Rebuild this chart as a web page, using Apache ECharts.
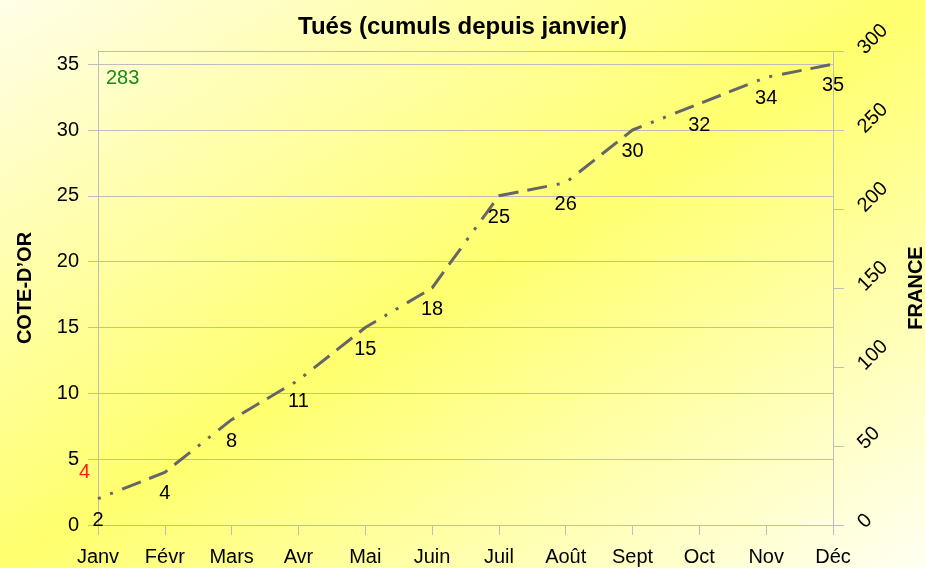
<!DOCTYPE html>
<html>
<head>
<meta charset="utf-8">
<script src="https://cdn.jsdelivr.net/npm/echarts@6/dist/echarts.min.js"></script>
<style>
  html, body { margin: 0; padding: 0; }
  body {
    width: 925px; height: 568px; overflow: hidden;
    background: linear-gradient(to bottom right, #fffee8 0%, #ffff6e 50%, #fffff2 100%);
  }
  #chart { width: 925px; height: 568px; }
</style>
</head>
<body>
<div id="chart"></div>
<script>
// mois (axe X)
const months = ['Janv', 'Févr', 'Mars', 'Avr', 'Mai', 'Juin', 'Juil', 'Août', 'Sept', 'Oct', 'Nov', 'Déc'];
// tués cumulés Côte-d'Or
const coteDorValues = [2, 4, 8, 11, 15, 18, 25, 26, 30, 32, 34, 35];
// annotations
const franceTotal = '283';
const coteDorMonth = '4';

const font = 'Liberation Sans, Arial, sans-serif';
const gridColor = '#bdbdbd';
const chart = echarts.init(document.getElementById('chart'), null, {renderer: 'canvas'});

chart.setOption({
  backgroundColor: 'transparent',
  animation: false,
  title: {
    text: 'Tués (cumuls depuis janvier)',
    left: 'center',
    top: 10,
    textStyle: {fontFamily: font, fontSize: 24, fontWeight: 'bold', color: '#000'}
  },
  grid: {left: 98, right: 92, top: 51, bottom: 43, outerBoundsMode: 'none'},
  xAxis: {
    type: 'category',
    data: months,
    boundaryGap: false,
    axisLine: {lineStyle: {color: gridColor, width: 1}},
    axisTick: {show: true, length: 10, lineStyle: {color: gridColor}},
    axisLabel: {fontFamily: font, fontSize: 20, color: '#000', margin: 22, interval: 0},
    splitLine: {show: false}
  },
  yAxis: [
    {
      type: 'value',
      min: 0, max: 36, interval: 5,
      position: 'left',
      name: 'COTE-D’OR',
      nameLocation: 'middle',
      nameRotate: 90,
      nameGap: 63,
      nameTextStyle: {fontFamily: font, fontSize: 20, fontWeight: 'bold', color: '#000'},
      axisLine: {show: true, lineStyle: {color: gridColor}},
      axisTick: {show: true, length: 10, lineStyle: {color: gridColor}},
      axisLabel: {fontFamily: font, fontSize: 20, color: '#000', margin: 19, showMaxLabel: false},
      splitLine: {show: true, lineStyle: {color: gridColor, width: 1}}
    },
    {
      type: 'value',
      min: 0, max: 300, interval: 50,
      position: 'right',
      name: 'FRANCE',
      nameLocation: 'middle',
      nameRotate: 90,
      nameGap: 73,
      nameTextStyle: {fontFamily: font, fontSize: 20, fontWeight: 'bold', color: '#000'},
      axisLine: {show: true, lineStyle: {color: gridColor}},
      axisTick: {show: true, length: 11, lineStyle: {color: gridColor}},
      axisLabel: {fontFamily: font, fontSize: 20, color: '#000', margin: 28, rotate: 45},
      splitLine: {show: false}
    }
  ],
  series: [{
    type: 'line',
    data: coteDorValues,
    yAxisIndex: 0,
    symbol: 'circle',
    symbolSize: 1,
    showSymbol: true,
    itemStyle: {color: 'rgba(0,0,0,0)'},
    // point, point, tiret, tiret, tiret
    lineStyle: {color: '#666666', width: 3, type: [3, 10, 3, 10, 20, 9, 20, 9, 20, 10]},
    label: {
      show: true,
      position: 'bottom',
      distance: 11,
      fontFamily: font,
      fontSize: 20,
      color: '#000'
    }
  }],
  graphic: [
    {
      type: 'text', left: 106, top: 68,
      style: {text: franceTotal, fill: '#1a8a1a', font: '20px ' + font}
    },
    {
      type: 'text', left: 79, top: 462,
      style: {text: coteDorMonth, fill: '#ff1a1a', font: '20px ' + font}
    }
  ]
});
</script>
</body>
</html>
